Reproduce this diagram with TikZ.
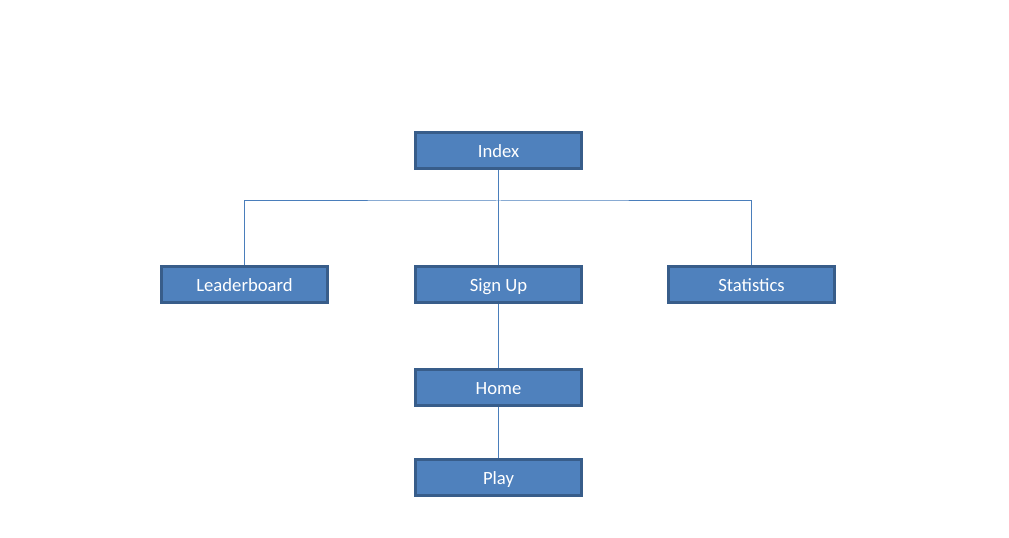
\documentclass[tikz,border=0pt]{standalone}
\usepackage{fontspec}
\setmainfont{Carlito}
\usepackage{tikz}
\usetikzlibrary{positioning}
\definecolor{boxfill}{HTML}{4F81BD}
\definecolor{boxline}{HTML}{385D8A}
\definecolor{linkcol}{HTML}{4A7EBB}

\begin{document}
\begin{tikzpicture}[x=0.75pt, y=-0.75pt, node distance=48pt, page/.style={draw=boxline, line width=2.25pt, fill=boxfill, text=white, minimum width=124.5pt, minimum height=27pt, inner sep=0pt, text height=11pt, text depth=1pt, align=center, font=\fontsize{14pt}{16pt}\selectfont}, link/.style={draw=linkcol, line width=0.75pt}]
\useasboundingbox (0,0) rectangle (1009,538);
\node[page] (Index) at (498.5,150.5) {Index};
\node[page, below=71.25pt of Index] (SignUp) {Sign Up};
\node[page, left=63.75pt of SignUp] (Leaderboard) {Leaderboard};
\node[page, right=63pt of SignUp] (Statistics) {Statistics};
\node[page, below=of SignUp] (Home) {Home};
\node[page, below=38.25pt of Home] (Play) {Play};
\coordinate[below=23.25pt of Index.south] (hub);
\draw[link] (Index) -- (SignUp); \draw[link] (Leaderboard.north) |- (hub) -| (Statistics.north); \draw[link] (SignUp) -- (Home); \draw[link] (Home) -- (Play);
\end{tikzpicture}
\end{document}
